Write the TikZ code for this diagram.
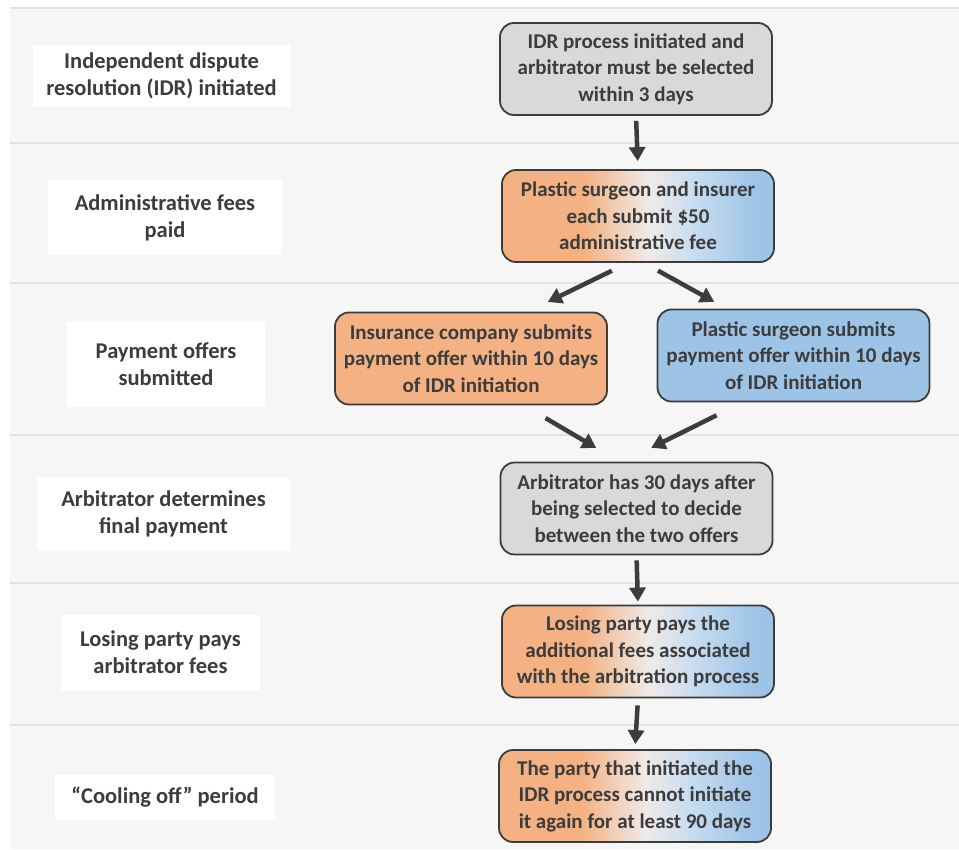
\documentclass[tikz,border=0pt]{standalone}
\usepackage{fontspec}
\setmainfont{Carlito}
\usetikzlibrary{arrows.meta}
\definecolor{Peach}{HTML}{F4B183}
\definecolor{Sky}{HTML}{9DC3E6}
\definecolor{Pale}{HTML}{EFEAE8}
\definecolor{Stone}{HTML}{D9D9D9}
\definecolor{Ink}{HTML}{3C3C3C}
\definecolor{Band}{HTML}{F6F6F6}
\definecolor{Rule}{HTML}{E2E2E2}
\pgfdeclarehorizontalshading{mixshade}{100bp}{color(0bp)=(Peach); color(40bp)=(Peach); color(52bp)=(Pale); color(61bp)=(Sky!60!white); color(72bp)=(Sky); color(100bp)=(Sky)}

\begin{document}
\begin{tikzpicture}[x=1pt,y=-1pt,
    stepbox/.style={draw=Ink,line width=1.8pt,rounded corners=14pt,minimum width=272pt,minimum height=92pt,
      align=center,inner sep=2pt,text=Ink,font=\fontsize{21}{26.5}\selectfont\bfseries},
    greybox/.style={stepbox,fill=Stone},
    mixbox/.style={stepbox,shading=mixshade},
    tagbox/.style={fill=white,align=center,inner sep=0pt,text=Ink,font=\fontsize{22.5}{27}\selectfont\bfseries},
    arr/.style={draw=Ink,line width=4.5pt,-{Triangle[width=16pt,length=14pt]}}]
  \useasboundingbox (0,0) rectangle (959,850);
  % background bands
  \fill[Band] (10,8) rectangle (959,849);
  \draw[Rule,line width=2pt] (10,8)--(959,8) (10,143)--(959,143) (10,283)--(959,283)
    (10,435)--(959,435) (10,583)--(959,583) (10,725)--(959,725);

  % left column
  \node[tagbox,minimum width=257pt,minimum height=62pt] (tagidr) at (161.5,76) {Independent dispute\\resolution (IDR) initiated};
  \node[tagbox,minimum width=234pt,minimum height=75pt] (tagfee) at (165,217.5) {Administrative fees\\paid};
  \node[tagbox,minimum width=198pt,minimum height=85pt] (tagoffer) at (166,364.5) {Payment offers\\submitted};
  \node[tagbox,minimum width=253pt,minimum height=72pt] (tagarb) at (163.5,514) {Arbitrator determines\\final payment};
  \node[tagbox,minimum width=199pt,minimum height=75pt] (taglose) at (160.5,652.5) {Losing party pays\\arbitrator fees};
  \node[tagbox,minimum width=220pt,minimum height=45pt] (tagcool) at (165,797.5) {“Cooling off” period};

  % flow
  \node[greybox] (idr) at (636,69) {IDR process initiated and\\arbitrator must be selected\\within 3 days};
  \node[mixbox] (fee) at (638,216) {Plastic surgeon and insurer\\each submit \$50\\administrative fee};
  \node[stepbox,fill=Peach] (insurer) at (471,358.5) {Insurance company submits\\payment offer within 10 days\\of IDR initiation};
  \node[stepbox,fill=Sky] (surgeon) at (793.5,355.5) {Plastic surgeon submits\\payment offer within 10 days\\of IDR initiation};
  \node[greybox] (arbit) at (636.5,508.5) {Arbitrator has 30 days after\\being selected to decide\\between the two offers};
  \node[mixbox] (losing) at (638,651.5) {Losing party pays the\\additional fees associated\\with the arbitration process};
  \node[mixbox] (cool) at (635,796) {The party that initiated the\\IDR process cannot initiate\\it again for at least 90 days};

  \draw[arr,shorten <=5pt,shorten >=8pt] (idr.south) -- (fee.north);
  \draw[arr,shorten <=18pt,shorten >=22pt] ([xshift=-10pt]fee.south) -- ([xshift=57pt]insurer.north);
  \draw[arr,shorten <=16pt,shorten >=14pt] ([xshift=6pt]fee.south) -- ([xshift=-67pt]surgeon.north);
  \draw[arr,shorten <=25pt,shorten >=27pt] ([xshift=53pt]insurer.south) -- ([xshift=-17pt]arbit.north);
  \draw[arr,shorten <=29pt,shorten >=31pt] ([xshift=-51pt]surgeon.south) -- ([xshift=-13pt]arbit.north);
  \draw[arr,shorten <=5pt,shorten >=3pt] (arbit.south) -- (losing.north);
  \draw[arr,shorten <=7pt,shorten >=5pt] (losing.south) -- (cool.north);
\end{tikzpicture}
\end{document}
